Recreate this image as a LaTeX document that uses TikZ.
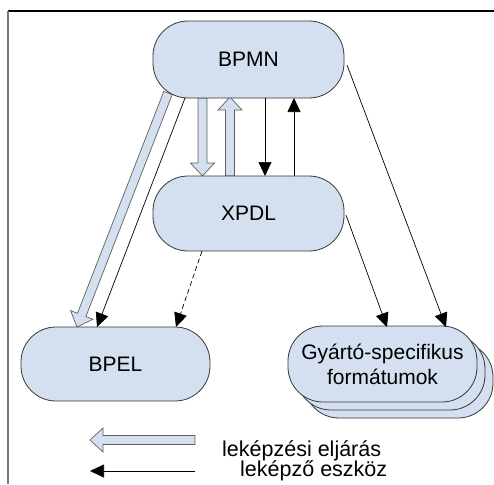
\documentclass[tikz,border=0pt]{standalone}
\usepackage{fontspec}
\setmainfont{Liberation Sans}
\usetikzlibrary{arrows.meta,calc,backgrounds}
\definecolor{boxfill}{RGB}{212,223,240}
\definecolor{boxline}{RGB}{55,55,55}
\definecolor{fatline}{RGB}{95,95,95}
\definecolor{framegray}{RGB}{120,120,120}
\tikzset{
  stadium/.style={draw=boxline, fill=boxfill, line width=0.8pt, rounded corners=35pt,
    font=\fontsize{21}{24}\selectfont, align=center, inner sep=0pt},
  thinarrow/.style={draw=black, line width=0.7pt, -{Triangle[length=14pt,width=13pt]}},
  fat/.style={draw=fatline, fill=boxfill, line width=0.7pt, line join=miter},
  legendtext/.style={font=\fontsize{21.5}{24}\selectfont, anchor=base west, inner sep=0pt}
}
% hollow "mapping procedure" arrow from #1 to #2
\newcommand\fatarrow[2]{%
  \draw[fat]
    ($(#1)!4.5pt!90:(#2)$) --
    ($($(#2)!13pt!(#1)$)!4.5pt!-90:(#1)$) --
    ($($(#2)!13pt!(#1)$)!12pt!-90:(#1)$) --
    (#2) --
    ($($(#2)!13pt!(#1)$)!12pt!90:(#1)$) --
    ($($(#2)!13pt!(#1)$)!4.5pt!90:(#1)$) --
    ($(#1)!4.5pt!-90:(#2)$) -- cycle;}
\begin{document}
\begin{tikzpicture}[x=1pt,y=-1pt]
\useasboundingbox (0,0) rectangle (494,484);
% frame
\draw[black, line width=1.1pt] (8,11) -- (494,11);
\draw[framegray, line width=1.1pt] (8,11) -- (8,484);

% boxes
\node[stadium, minimum width=191pt, minimum height=77pt] (bpmn) at (248.5,59.5) {BPMN};
\node[stadium, minimum width=191pt, minimum height=75pt] (xpdl) at (248.5,213.5) {XPDL};
\node[stadium, minimum width=189pt, minimum height=74pt] (bpel) at (115.5,364) {BPEL};
\node[stadium, minimum width=189pt, minimum height=76pt] (gy3) at (398.5,380) {};
\node[stadium, minimum width=189pt, minimum height=76pt] (gy2) at (390.5,372) {};
\node[stadium, minimum width=189pt, minimum height=76pt] (gy) at (382.5,364)
  {Gyártó-specifikus\\[1pt]formátumok};

% attachment points
\coordinate (bpmnHa) at (202.5,98);  \coordinate (xpdlHa) at (202.5,176);
\coordinate (xpdlHb) at (230,176);   \coordinate (bpmnHb) at (230,97);
\coordinate (bpmnTa) at (265,98);    \coordinate (xpdlTa) at (265,176);
\coordinate (xpdlTb) at (294,176);   \coordinate (bpmnTb) at (294,98);
\coordinate (bpmnHc) at (168,93);    \coordinate (bpelHc) at (77,327);
\coordinate (bpmnTc) at (185,98);    \coordinate (bpelTc) at (97,327);
\coordinate (xpdlD)  at (202,251);   \coordinate (bpelD)  at (176,327);
\coordinate (xpdlG)  at (346,215);   \coordinate (gyX)    at (387,327);
\coordinate (bpmnG)  at (347,65);    \coordinate (gyB)    at (446,327);

\begin{scope}[on background layer]
  \fatarrow{bpmnHa}{xpdlHa}
  \fatarrow{xpdlHb}{bpmnHb}
  \fatarrow{bpmnHc}{bpelHc}
\end{scope}
\draw[thinarrow] (bpmnTa) -- (xpdlTa);
\draw[thinarrow] (xpdlTb) -- (bpmnTb);
\draw[thinarrow] (bpmnTc) -- (bpelTc);
\draw[thinarrow, dash pattern=on 5pt off 3pt] (xpdlD) -- (bpelD);
\draw[thinarrow] (xpdlG) -- (gyX);
\draw[thinarrow] (bpmnG) -- (gyB);

% legend
\coordinate (lgHs) at (195,440); \coordinate (lgHe) at (90,440);
\coordinate (lgTs) at (195,471); \coordinate (lgTe) at (90,471);
\fatarrow{lgHs}{lgHe}
\draw[thinarrow] (lgTs) -- (lgTe);
\node[legendtext] (lgH) at (222,456) {leképzési eljárás};
\node[legendtext] (lgT) at (240,476) {leképző eszköz};
\end{tikzpicture}
\end{document}
